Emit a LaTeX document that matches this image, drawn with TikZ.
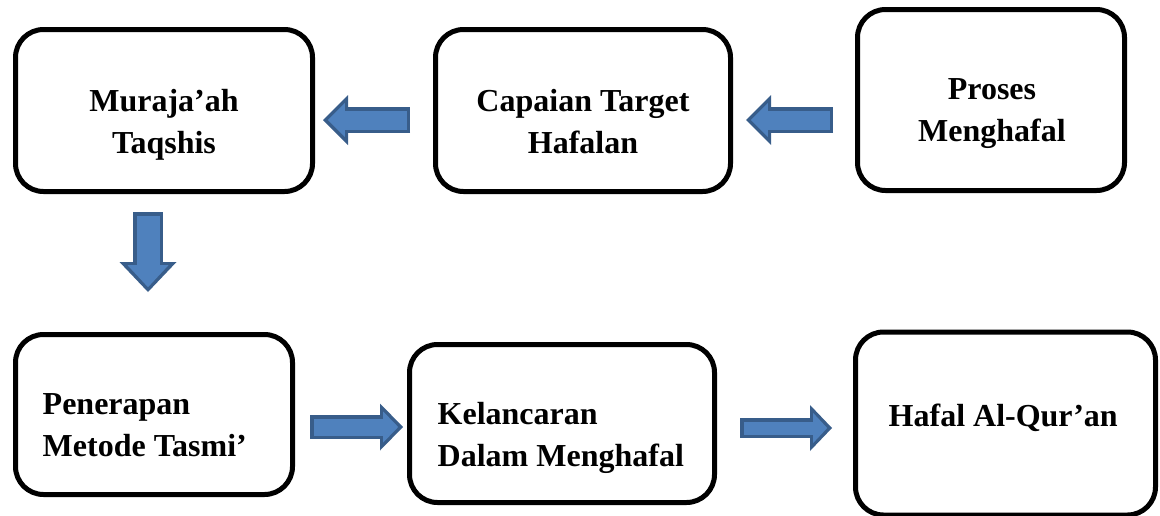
\documentclass[tikz,border=0pt]{standalone}
\usepackage{fontspec}
\setmainfont{Liberation Serif}
\usetikzlibrary{positioning,arrows.meta}
\definecolor{arrowfill}{HTML}{4F81BD}
\definecolor{arrowedge}{HTML}{385D8A}

\begin{document}
\begin{tikzpicture}[x=1pt,y=-1pt]
	\tikzstyle{box}=[draw, line width=5pt, rounded corners=28pt, inner sep=0pt, outer sep=0pt]
	\tikzstyle{txt}=[inner sep=0pt, font=\bfseries\fontsize{32}{42}\selectfont]
	% block arrow: shaft, head width, head length
	\tikzset{blk/.code n args={3}{%
		\pgfmathsetmacro\blkin{#1-7}%
		\pgfmathsetmacro\blkhw{#2-16}%
		\pgfmathsetmacro\blkhl{#3-8}%
		\tikzset{preaction={draw=arrowedge, line width=#1pt, shorten <=0pt, shorten >=0pt,
				-{Triangle[length=#3pt, width=#2pt, line width=0pt]}},
			draw=arrowfill, line width=\blkin pt, shorten <=3.5pt, shorten >=4.8pt,
			-{Triangle[length=\blkhl pt, width=\blkhw pt, line width=0pt]}}}}
	\useasboundingbox (0,0) rectangle (1160,515);
		\node[box, minimum width=297pt, minimum height=162pt] (muraja) at (164,110.5) {};
		\node[box, minimum width=295pt, minimum height=162pt, right=123pt of muraja] (capaian) {};
		\node[box, minimum width=267pt, minimum height=181pt, right=127pt of capaian, yshift=10.5pt] (proses) {};
		\node[box, minimum width=277pt, minimum height=160pt, below=143pt of muraja, xshift=-10pt] (penerapan) {};
		\node[box, minimum width=305pt, minimum height=158pt, right=117pt of penerapan, yshift=-9pt] (kelancaran) {};
		\node[box, minimum width=300pt, minimum height=183pt, right=141pt of kelancaran] (hafal) {};
		\node[txt, align=center] (murajaT) at ([yshift=-14pt]muraja.center) {Muraja’ah\\Taqshis};
		\node[txt, align=center] (capaianT) at ([yshift=-11pt]capaian.center) {Capaian Target\\Hafalan};
		\node[txt, align=center] (prosesT) at ([xshift=1pt, yshift=-14pt]proses.center) {Proses\\Menghafal};
		\node[txt, align=left, anchor=west] (penerapanT) at ([xshift=27pt, yshift=-11pt]penerapan.west) {Penerapan\\Metode Tasmi’};
		\node[txt, align=left, anchor=west] (kelancaranT) at ([xshift=28pt, yshift=-14.5pt]kelancaran.west) {Kelancaran\\Dalam Menghafal};
		\node[txt, anchor=west] (hafalT) at ([xshift=33pt, yshift=5.5pt]hafal.west) {Hafal Al-Qur’an};
			\draw[blk={26}{50}{25}] ([xshift=-25.5pt, yshift=-9.5pt]capaian.west) -- ([xshift=10.5pt, yshift=-9.5pt]muraja.east);
			\draw[blk={26}{50}{25}] ([xshift=-24.5pt, yshift=-20pt]proses.west) -- ([xshift=15.5pt, yshift=-9.5pt]capaian.east);
			\draw[blk={30}{57}{30}] ([xshift=-16pt, yshift=-20.5pt]muraja.south) -- ([xshift=-6pt, yshift=42.5pt]penerapan.north);
			\draw[blk={24}{47}{23}] ([xshift=17.5pt, yshift=-12.5pt]penerapan.east) -- ([xshift=-6.5pt, yshift=-3.5pt]kelancaran.west);
			\draw[blk={20}{46}{22}] ([xshift=25.5pt, yshift=-4.5pt]kelancaran.east) -- ([xshift=-23.5pt, yshift=-4.5pt]hafal.west);
\end{tikzpicture}
\end{document}
